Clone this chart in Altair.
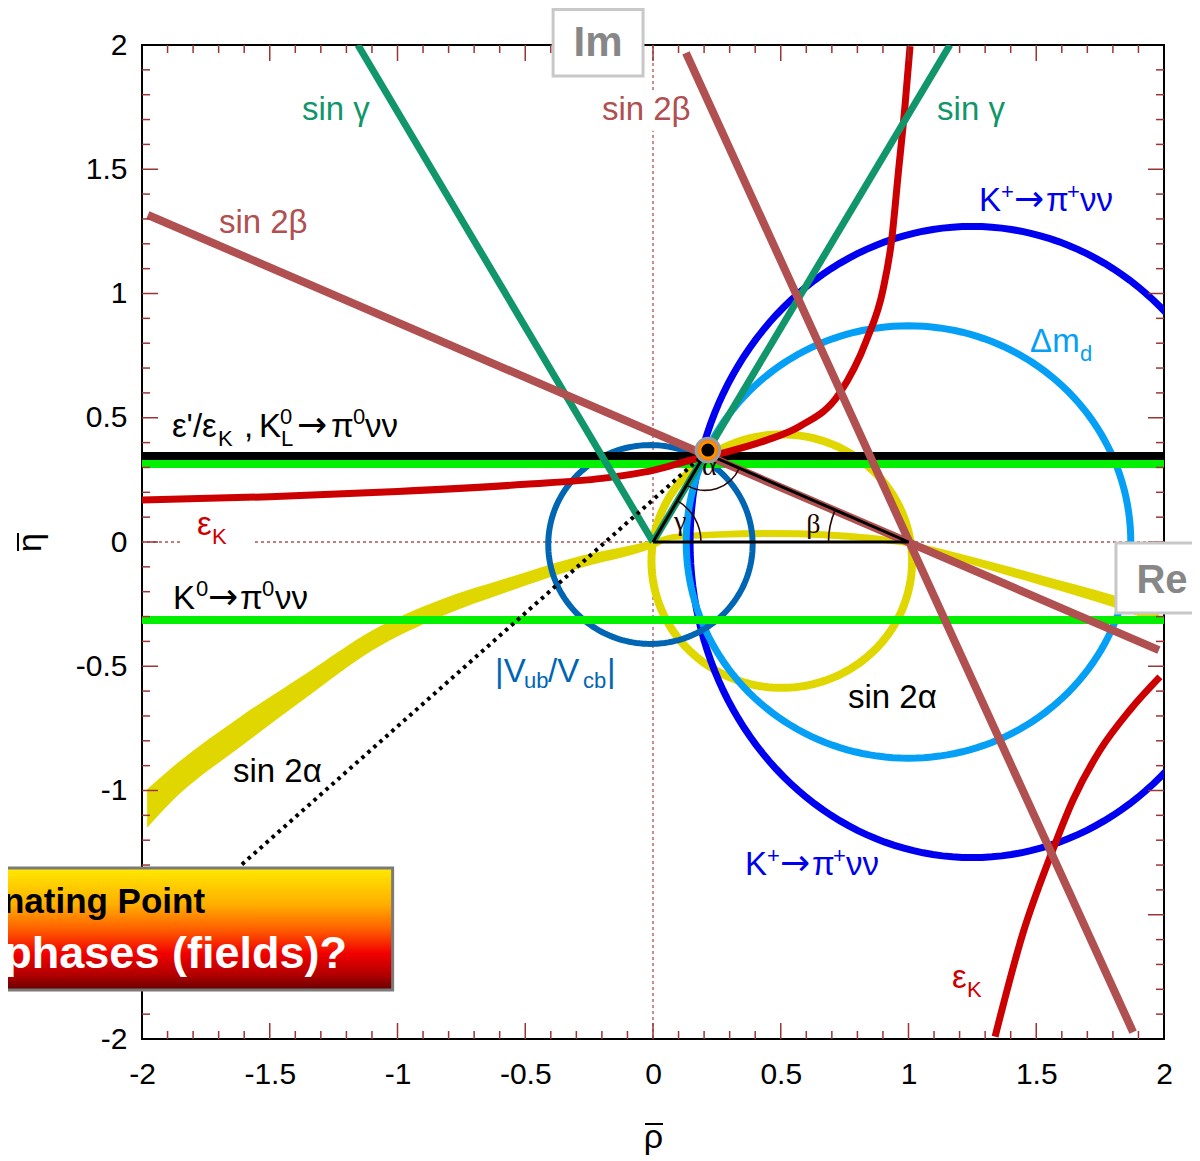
import altair as alt
import pandas as pd

FONT = "Liberation Sans"
SERIF = "Liberation Serif"
ARROW_FONT = "DejaVu Sans"
W, H = 1022, 994

# ---------------- data ----------------
x_axis_values = [-2, -1.5, -1, -0.5, 0, 0.5, 1, 1.5, 2]
# -1.5 on the eta axis is hidden under the annotation box in the reference
y_axis_values = [-2, -1, -0.5, 0, 0.5, 1, 1.5, 2]
major_ticks = [-1.5, -1.0, -0.5, 0.0, 0.5, 1.0, 1.5]
minor_ticks = [-1.9, -1.8, -1.7, -1.6, -1.4, -1.3, -1.2, -1.1, -0.9, -0.8, -0.7, -0.6,
               -0.4, -0.3, -0.2, -0.1, 0.1, 0.2, 0.3, 0.4, 0.6, 0.7, 0.8, 0.9,
               1.1, 1.2, 1.3, 1.4, 1.6, 1.7, 1.8, 1.9]

# straight constraints (segments)
sin_gamma_rho1 = [0.0, 0.0]
sin_gamma_eta1 = [0.0, 0.0]
sin_gamma_rho2 = [-1.155, 1.162]
sin_gamma_eta2 = [2.0, 2.0]

sin2beta_rho1 = [-1.977, 0.129]
sin2beta_eta1 = [1.316, 1.968]
sin2beta_rho2 = [1.980, 1.879]
sin2beta_eta2 = [-0.435, -1.972]

eps_prime_eta = [0.346]          # black band  (eps'/eps_K, K_L -> pi0 nu nu)
k0pi0_eta = [0.314, -0.314]      # bright green bands

# eps_K hyperbola branches
epsK_up_rho = [-2.0, -1.5, -1.0, -0.5, -0.2, 0.0, 0.15, 0.28, 0.445, 0.575, 0.73,
               0.836, 0.90, 0.934, 0.96, 0.986, 1.006]
epsK_up_eta = [0.169, 0.182, 0.203, 0.232, 0.256, 0.288, 0.330, 0.360, 0.410, 0.466,
               0.598, 0.813, 1.014, 1.215, 1.484, 1.752, 1.995]
epsK_lo_rho = [1.339, 1.448, 1.554, 1.644, 1.750, 1.867, 1.984]
epsK_lo_eta = [-1.99, -1.574, -1.268, -1.038, -0.837, -0.676, -0.543]

# sin 2alpha open band
s2a_rho = [-1.98, -1.88, -1.616, -1.354, -1.096, -0.834, -0.571, -0.313, 0.0, 0.08,
           0.47, 0.861, 0.994, 1.252, 1.515, 1.80, 1.98]
s2a_lo = [-1.15, -1.04, -0.825, -0.624, -0.435, -0.302, -0.201, -0.113, -0.024, 0.008,
          0.020, 0.000, -0.016, -0.093, -0.173, -0.262, -0.330]
s2a_hi = [-0.995, -0.905, -0.704, -0.527, -0.354, -0.233, -0.145, -0.064, 0.008, 0.032,
          0.048, 0.028, 0.004, -0.060, -0.133, -0.213, -0.270]

# closed constraints: centre and semi-axes
curve_names = ["sin2alpha", "kplus", "dmd", "vub"]
curve_c_rho = [0.504, 1.249, 1.0, -0.01]
curve_c_eta = [-0.077, 0.0, 0.0, -0.01]
curve_a = [0.51, 1.104, 0.87, 0.40]
curve_b = [0.51, 1.27, 0.87, 0.40]

# unitarity triangle
tri_rho = [0.0, 1.0, 0.205, 0.0]
tri_eta = [0.0, 0.0, 0.357, 0.0]
apex_marker_rho, apex_marker_eta = [0.215], [0.37]
dotted_rho = [0.205, -1.616]
dotted_eta = [0.357, -1.304]

# angle arcs: vertex rho, eta, start/end angle (deg, clockwise from up), radius px
arc_rho = [0.205, 0.0, 1.0]
arc_eta = [0.357, 0.0, 0.0]
arc_start = [113.5, 29.9, 270.0]
arc_end = [209.9, 90.0, 293.5]
arc_r = [37, 48, 80]
angle_names = ["α", "γ", "β"]
angle_rho = [0.192, 0.082, 0.600]
angle_eta = [0.268, 0.048, 0.036]

# ---------------- colours ----------------
C_GREEN = "#10966a"
C_BROWN = "#b05050"
C_RED = "#cc0000"
C_BLUE = "#0000f0"
C_LBLUE = "#05a0f5"
C_VUB = "#0066b4"
C_YEL = "#e1d700"
C_LIME = "#00f000"
C_TICK = "#9a3535"

curve_colors = [C_YEL, C_BLUE, C_LBLUE, C_VUB]
curve_widths = [8, 7, 7, 6]

# labels: anchor rho, eta, colour, segments (text, dx, dy, kind)  kind: n normal, s small, a arrow
KPLUS = [("K", 0, 0, "n"), ("+", 22, -12, "s"), ("→", 35, 0, "a"),
         ("π", 67, 0, "n"), ("+", 88, -12, "s"), ("νν", 101, 0, "n")]
labels = [
    (-1.374, 1.698, C_GREEN, [("sin γ", 0, 0, "n")]),
    (1.112, 1.698, C_GREEN, [("sin γ", 0, 0, "n")]),
    (-0.200, 1.698, C_BROWN, [("sin 2β", 0, 0, "n")]),
    (-1.699, 1.243, C_BROWN, [("sin 2β", 0, 0, "n")]),
    (1.276, 1.332, C_BLUE, KPLUS),
    (0.360, -1.340, C_BLUE, KPLUS),
    (1.476, 0.765, C_LBLUE, [("Δm", 0, 0, "n"), ("d", 50, 9, "s")]),
    (-1.883, 0.423, "black", [("ε'/ε", 0, 0, "n"), ("K", 46, 9, "s"), (",", 72, 0, "n"),
                              ("K", 87, 0, "n"), ("0", 108, -13, "s"), ("L", 109, 9, "s"),
                              ("→", 125, 0, "a"), ("π", 159, 0, "n"), ("0", 181, -13, "s"),
                              ("νν", 193, 0, "n")]),
    (-1.785, 0.028, C_RED, [("ε", 0, 0, "n"), ("K", 15, 9, "s")]),
    (1.170, -1.795, C_RED, [("ε", 0, 0, "n"), ("K", 15, 9, "s")]),
    (-1.879, -0.270, "black", [("K", 0, 0, "n"), ("0", 23, -13, "s"), ("→", 35, 0, "a"),
                               ("π", 67, 0, "n"), ("0", 89, -13, "s"), ("νν", 102, 0, "n")]),
    (-0.618, -0.563, C_VUB, [("|V", 0, 0, "n"), ("ub", 29, 6, "s"), ("/V", 53, 0, "n"),
                             ("cb", 88, 6, "s"), ("|", 112, 0, "n")]),
    (0.763, -0.668, "black", [("sin 2α", 0, 0, "n")]),
    (-1.644, -0.966, "black", [("sin 2α", 0, 0, "n")]),
]
SIZES = {"n": 33, "s": 22, "a": 36}

# white backgrounds behind labels that interrupt the dotted axes
bg_rho1 = [-1.85, -0.215]
bg_rho2 = [-1.56, 0.165]
bg_eta1 = [-0.035, 1.655]
bg_eta2 = [0.11, 1.81]

# annotation boxes
box_im = dict(rho1=-0.391, rho2=-0.039, eta1=1.875, eta2=2.143)
box_re = dict(rho1=1.812, rho2=2.25, eta1=-0.286, eta2=-0.004)
box_q = dict(rho1=-2.75, rho2=-1.019, eta1=-1.803, eta2=-1.312)
box_texts = [
    ("Im", -0.215, 1.956, "#878787", 42, "center"),
    ("Re", 1.992, -0.205, "#878787", 40, "center"),
    ("nating Point", -1.753, -1.493, "black", 35, "right"),
    ("phases (fields)?", -1.198, -1.714, "white", 45, "right"),
]

# ---------------- scales / axes ----------------
SC = alt.Scale(domain=[-2, 2], nice=False, zero=False)
AX_X = alt.Axis(values=x_axis_values, labelExpr="'' + datum.value", ticks=False, tickSize=0,
                domain=False, grid=False, labelFont=FONT, labelFontSize=30, labelColor="black",
                labelPadding=20, labelFlush=False, labelOverlap=False,
                title="ρ", titleFont=FONT, titleFontSize=34, titleFontWeight="normal",
                titleColor="black", titlePadding=31)
AX_Y = alt.Axis(values=y_axis_values, labelExpr="'' + datum.value", ticks=False, tickSize=0,
                domain=False, grid=False, labelFont=FONT, labelFontSize=30, labelColor="black",
                labelPadding=15, labelFlush=False, labelOverlap=False,
                title="η", titleFont=FONT, titleFontSize=34, titleFontWeight="normal",
                titleColor="black", titlePadding=28)


def X(f):
    return alt.X(f, type="quantitative", scale=SC, axis=AX_X)


def Y(f):
    return alt.Y(f, type="quantitative", scale=SC, axis=AX_Y)


layers = []

# dotted zero lines
layers.append(alt.Chart(pd.DataFrame({"v": [0.0]})).mark_rule(
    color=C_BROWN, strokeWidth=1.3, strokeDash=[3, 3]).encode(x=X("v")))
layers.append(alt.Chart(pd.DataFrame({"v": [0.0]})).mark_rule(
    color=C_BROWN, strokeWidth=1.3, strokeDash=[3, 3]).encode(y=Y("v")))

# label backgrounds
layers.append(alt.Chart(pd.DataFrame({"r1": bg_rho1, "r2": bg_rho2, "e1": bg_eta1, "e2": bg_eta2}))
              .mark_rect(color="white").encode(x=X("r1"), x2="r2", y=Y("e1"), y2="e2"))

# sin 2alpha open band
layers.append(alt.Chart(pd.DataFrame({"rho": s2a_rho, "lo": s2a_lo, "hi": s2a_hi}))
              .mark_area(color=C_YEL, interpolate="monotone", clip=True, opacity=1)
              .encode(x=X("rho"), y=Y("lo"), y2="hi"))

# closed curves
for i, name in enumerate(curve_names):
    cx, cy, a, b = curve_c_rho[i], curve_c_eta[i], curve_a[i], curve_b[i]
    layers.append(
        alt.Chart(alt.sequence(0, 362, 2, as_="deg"))
        .transform_calculate(rho=f"{cx} + {a} * cos(datum.deg * PI / 180)",
                             eta=f"{cy} + {b} * sin(datum.deg * PI / 180)")
        .mark_line(clip=True, color=curve_colors[i], strokeWidth=curve_widths[i])
        .encode(x=X("rho"), y=Y("eta"), order="deg:Q"))

# horizontal bands
layers.append(alt.Chart(pd.DataFrame({"v": k0pi0_eta})).mark_rule(color=C_LIME, strokeWidth=8)
              .encode(y=Y("v")))
layers.append(alt.Chart(pd.DataFrame({"v": eps_prime_eta})).mark_rule(color="black", strokeWidth=8)
              .encode(y=Y("v")))

# eps_K
layers.append(alt.Chart(pd.DataFrame({"rho": epsK_up_rho, "eta": epsK_up_eta}))
              .mark_line(color=C_RED, strokeWidth=7, interpolate="monotone", clip=True)
              .encode(x=X("rho"), y=Y("eta")))
layers.append(alt.Chart(pd.DataFrame({"rho": epsK_lo_rho, "eta": epsK_lo_eta}))
              .mark_line(color=C_RED, strokeWidth=7, interpolate="monotone", clip=True)
              .encode(x=X("rho"), y=Y("eta")))

# sin gamma, sin 2beta
layers.append(alt.Chart(pd.DataFrame({"r1": sin_gamma_rho1, "e1": sin_gamma_eta1,
                                      "r2": sin_gamma_rho2, "e2": sin_gamma_eta2}))
              .mark_rule(color=C_GREEN, strokeWidth=7, clip=True)
              .encode(x=X("r1"), y=Y("e1"), x2="r2", y2="e2"))
layers.append(alt.Chart(pd.DataFrame({"r1": sin2beta_rho1, "e1": sin2beta_eta1,
                                      "r2": sin2beta_rho2, "e2": sin2beta_eta2}))
              .mark_rule(color=C_BROWN, strokeWidth=8, clip=True)
              .encode(x=X("r1"), y=Y("e1"), x2="r2", y2="e2"))

# triangle
layers.append(alt.Chart(pd.DataFrame({"rho": tri_rho, "eta": tri_eta, "i": list(range(len(tri_rho)))}))
              .mark_line(color="black", strokeWidth=3)
              .encode(x=X("rho"), y=Y("eta"), order="i:Q"))

# dotted line
layers.append(alt.Chart(pd.DataFrame({"r1": [dotted_rho[0]], "e1": [dotted_eta[0]],
                                      "r2": [dotted_rho[1]], "e2": [dotted_eta[1]]}))
              .mark_rule(color="black", strokeWidth=4, strokeDash=[3.5, 4.5])
              .encode(x=X("r1"), y=Y("e1"), x2="r2", y2="e2"))

# angle arcs
DEG = 3.141592653589793 / 180
for i in range(len(arc_rho)):
    layers.append(alt.Chart(pd.DataFrame({"rho": [arc_rho[i]], "eta": [arc_eta[i]]}))
                  .mark_arc(theta=arc_start[i] * DEG, theta2=arc_end[i] * DEG,
                            radius=arc_r[i], radius2=arc_r[i], filled=False,
                            color="#2a0808", strokeWidth=1.6)
                  .encode(x=X("rho"), y=Y("eta")))
layers.append(alt.Chart(pd.DataFrame({"rho": angle_rho, "eta": angle_eta, "t": angle_names}))
              .mark_text(font=SERIF, fontSize=28, color="#1a0505", align="left", baseline="alphabetic")
              .encode(x=X("rho"), y=Y("eta"), text="t:N"))

# apex marker
layers.append(alt.Chart(pd.DataFrame({"rho": apex_marker_rho, "eta": apex_marker_eta}))
              .mark_point(shape="circle", size=560, filled=True, opacity=1,
                          fill=alt.RadialGradient(gradient="radial", stops=[
                              alt.GradientStop(color="#ffe866", offset=0),
                              alt.GradientStop(color="#ffa200", offset=0.5),
                              alt.GradientStop(color="#ff6a00", offset=1)]),
                          stroke="#9c9c9c", strokeWidth=3)
              .encode(x=X("rho"), y=Y("eta")))
layers.append(alt.Chart(pd.DataFrame({"rho": apex_marker_rho, "eta": apex_marker_eta}))
              .mark_point(shape="circle", size=170, filled=True, opacity=1, color="black")
              .encode(x=X("rho"), y=Y("eta")))

# inward ticks on all four sides
for vals, ln in ((major_ticks, 16), (minor_ticks, 8)):
    df = pd.DataFrame({"v": vals})
    base = alt.Chart(df)
    layers.append(base.mark_rule(color=C_TICK, strokeWidth=1.5)
                  .encode(y=Y("v"), x=alt.value(0), x2=alt.value(ln)))
    layers.append(base.mark_rule(color=C_TICK, strokeWidth=1.5)
                  .encode(y=Y("v"), x=alt.value(W - ln), x2=alt.value(W)))
    layers.append(base.mark_rule(color=C_TICK, strokeWidth=1.5)
                  .encode(x=X("v"), y=alt.value(0), y2=alt.value(ln)))
    layers.append(base.mark_rule(color=C_TICK, strokeWidth=1.5)
                  .encode(x=X("v"), y=alt.value(H - ln), y2=alt.value(H)))

# bars over the axis-title letters (rho-bar, eta-bar)
layers.append(alt.Chart(pd.DataFrame({"k": [0]})).mark_rule(color="black", strokeWidth=2)
              .encode(x=alt.value(503), x2=alt.value(521), y=alt.value(1079)))
layers.append(alt.Chart(pd.DataFrame({"k": [0]})).mark_rule(color="black", strokeWidth=2)
              .encode(x=alt.value(-124), y=alt.value(488), y2=alt.value(506)))

# constraint labels
for rho, eta, color, segs in labels:
    for txt, dx, dy, kind in segs:
        layers.append(alt.Chart(pd.DataFrame({"rho": [rho], "eta": [eta], "t": [txt]}))
                      .mark_text(align="left", baseline="alphabetic", dx=dx, dy=dy,
                                 font=ARROW_FONT if kind == "a" else FONT,
                                 fontSize=SIZES[kind], color=color)
                      .encode(x=X("rho"), y=Y("eta"), text="t:N"))

# boxes
for bx, stroke in ((box_im, "#c8c8c8"), (box_re, "#c8c8c8")):
    layers.append(alt.Chart(pd.DataFrame({k: [v] for k, v in bx.items()}))
                  .mark_rect(fill="white", stroke=stroke, strokeWidth=3)
                  .encode(x=X("rho1"), x2="rho2", y=Y("eta1"), y2="eta2"))
layers.append(alt.Chart(pd.DataFrame({k: [v] for k, v in box_q.items()}))
              .mark_rect(stroke="#7a7a7a", strokeWidth=3,
                         fill=alt.LinearGradient(gradient="linear", x1=0, x2=0, y1=0, y2=1, stops=[
                             alt.GradientStop(color="#ffea00", offset=0),
                             alt.GradientStop(color="#ffae00", offset=0.3),
                             alt.GradientStop(color="#ff6000", offset=0.5),
                             alt.GradientStop(color="#f20000", offset=0.7),
                             alt.GradientStop(color="#b00000", offset=0.88),
                             alt.GradientStop(color="#650000", offset=1)]))
              .encode(x=X("rho1"), x2="rho2", y=Y("eta1"), y2="eta2"))
for txt, rho, eta, color, size, align in box_texts:
    layers.append(alt.Chart(pd.DataFrame({"rho": [rho], "eta": [eta], "t": [txt]}))
                  .mark_text(align=align, baseline="alphabetic", font=FONT, fontSize=size,
                             fontWeight="bold", color=color)
                  .encode(x=X("rho"), y=Y("eta"), text="t:N"))

chart = (alt.layer(*layers)
         .properties(width=W, height=H, autosize=alt.AutoSizeParams(type="none"),
                     padding={"left": 134, "top": 37, "right": 28, "bottom": 118},
                     background="white")
         .configure_view(stroke="black", strokeWidth=2))

chart.save("out.html", embed_options={"renderer": "svg", "actions": False})
